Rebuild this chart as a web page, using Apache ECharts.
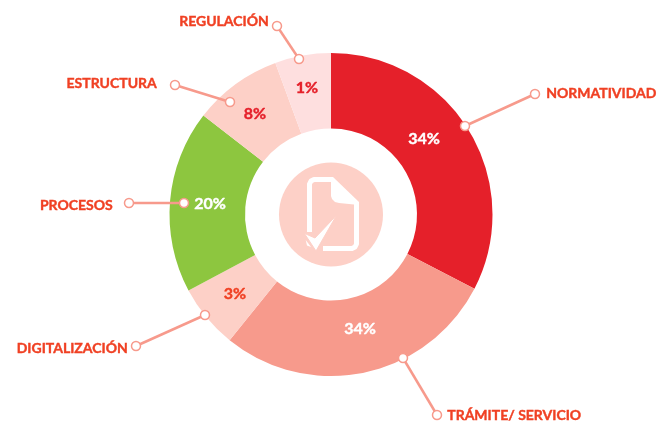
<!DOCTYPE html>
<html><head><meta charset="utf-8">
<style>html,body{margin:0;padding:0;background:#fff}#c{width:658px;height:424px}</style>
<script src="https://cdn.jsdelivr.net/npm/echarts@6/dist/echarts.min.js"></script>
</head><body><div id="c"></div>
<script>
const categories = ['NORMATIVIDAD','TRÁMITE/ SERVICIO','DIGITALIZACIÓN','PROCESOS','ESTRUCTURA','REGULACIÓN'];
const percentLabels = ['34%','34%','3%','20%','8%','1%'];
// Slice sizes as drawn in the picture (the printed percentages do not match the drawn angles)
const sliceShares = [32.6,28.2,6.4,18.3,8.9,5.6];
const sliceColors = ['#e5202a','#f79a8c','#fdd0c7','#8dc63f','#fdd0c7','#fedfdf'];
const percentColors = ['#ffffff','#ffffff','#f04023','#ffffff','#e5202a','#e5202a'];

// Layout only
const CX=331, CY=214.5;
const percentPos = [[424,139],[360,329],[235,294],[210,204],[255,114],[307,88]];
const leaders = [
  [[535,94],[465,126]],
  [[437,415],[403,358]],
  [[136,346],[205,315]],
  [[129,203],[184,203]],
  [[175,85],[230,102]],
  [[277,26],[299,59]]
];
const nameLayout = [
  {position:'right',offset:[1,-1]},
  {position:'right',offset:[0,0]},
  {position:'left',offset:[2,2]},
  {position:'left',offset:[-6,2]},
  {position:'left',offset:[-8,-2]},
  {position:'left',offset:[2,-5]}
];
const FONT='Lato';
const chart = echarts.init(document.getElementById('c'),null,{renderer:'canvas'});
const leaderSeries = leaders.map((pts,i)=>({
  type:'line',
  z:5,
  silent:true,
  animation:false,
  symbol:'circle',
  symbolSize:9,
  showSymbol:true,
  lineStyle:{color:'#f79a8c',width:2.5},
  itemStyle:{color:'#ffffff',borderColor:'#f79a8c',borderWidth:1.5},
  data:[
    {value:pts[0],label:{show:true,formatter:categories[i],position:nameLayout[i].position,offset:nameLayout[i].offset,
      color:'#f04023',fontFamily:FONT,fontWeight:'bold',fontSize:14,textBorderColor:'#f04023',textBorderWidth:0.4}},
    {value:pts[1],label:{show:false}}
  ]
}));
const iconStroke={fill:'none',stroke:'#fff',lineWidth:5,lineJoin:'round',lineCap:'butt'};
chart.setOption({
  animation:false,
  backgroundColor:'#ffffff',
  grid:{left:0,right:0,top:0,bottom:0},
  xAxis:{type:'value',min:0,max:658,show:false},
  yAxis:{type:'value',min:0,max:424,inverse:true,show:false},
  series:[
    {
      type:'pie',
      silent:true,
      z:1,
      center:[CX,CY],
      radius:[86,161.5],
      startAngle:90,
      clockwise:true,
      label:{show:true,position:'inside',fontFamily:FONT,fontWeight:'bold',fontSize:16},
      labelLine:{show:false},
      labelLayout:(p)=>({x:percentPos[p.dataIndex][0],y:percentPos[p.dataIndex][1],align:'center',verticalAlign:'middle'}),
      data:categories.map((c,i)=>({
        name:c,value:sliceShares[i],
        itemStyle:{color:sliceColors[i]},
        label:{formatter:percentLabels[i],color:percentColors[i],textBorderColor:percentColors[i],textBorderWidth:0.4}
      }))
    },
    ...leaderSeries
  ],
  graphic:[
    {type:'circle',z:3,shape:{cx:CX,cy:CY,r:52},style:{fill:'#fdd0c7'}},
    {type:'polyline',z:4,shape:{points:[[309.5,232],[309.5,184],[311,181],[314,179.5],[332,179.5]]},style:iconStroke},
    {type:'polyline',z:4,shape:{points:[[356.5,203],[356.5,244],[355,247],[352,248.5],[323,248.5]]},style:iconStroke},
    {type:'polygon',z:4,shape:{points:[[331,177],[333,177],[359,202],[359,205],[339,203],[335,202],[332,199],[331,196]]},style:{fill:'#fff'}},
    {type:'polygon',z:4,shape:{points:[[336.7,215],[316,251],[304.3,233.3],[315,238]]},style:{fill:'#fff',stroke:'#fdd0c7',lineWidth:1}},
    {type:'polygon',z:4,shape:{points:[[305.7,240],[311,247],[307,245.5]]},style:{fill:'#fff'}}
  ]
});
</script></body></html>
